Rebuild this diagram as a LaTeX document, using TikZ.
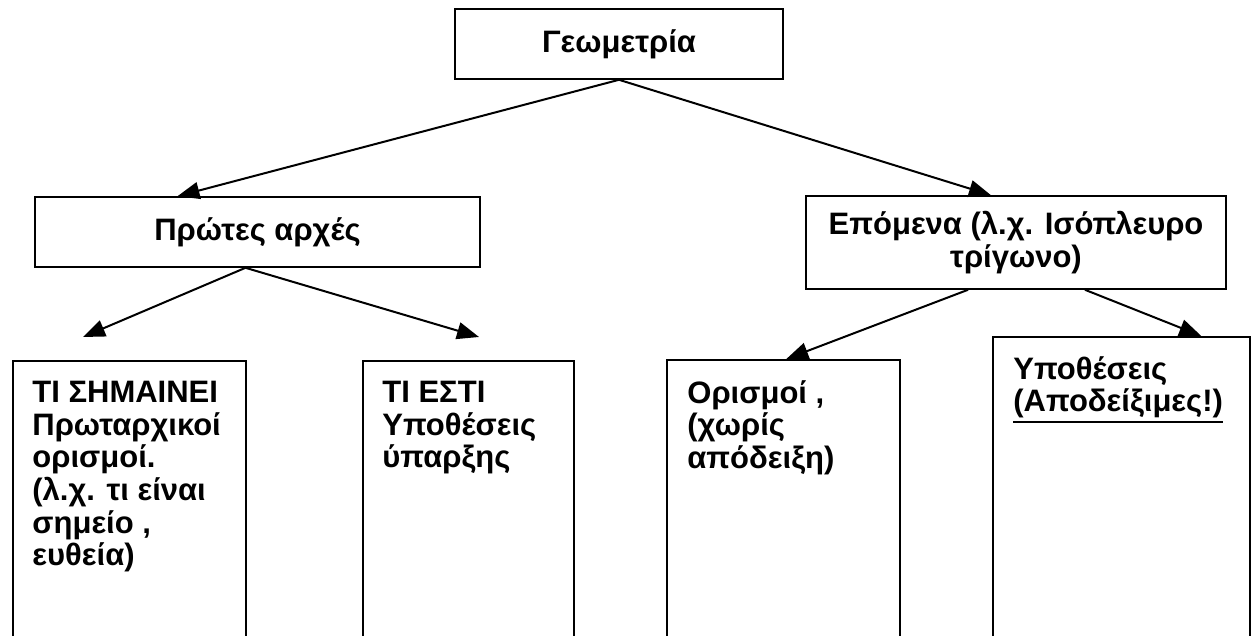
\documentclass[tikz,border=0pt]{standalone}
\usepackage{fontspec}
\setmainfont{Liberation Sans}
\usetikzlibrary{arrows.meta}
\newcommand\thickul[1]{\vtop{\hbox{#1}\kern1.3pt\hrule height 1.1pt}}

\begin{document}
\begin{tikzpicture}[x=0.5pt,y=-0.5pt]
\tikzstyle{box}=[draw,line width=0.8pt,align=center,font=\fontsize{15.5}{16.4}\selectfont\bfseries]
\tikzstyle{leaf}=[draw,line width=0.8pt,anchor=north west,minimum height=150pt]
\tikzstyle{leaftext}=[anchor=north west,inner sep=0pt,align=left,font=\fontsize{15.5}{16.3}\selectfont\bfseries]
\tikzstyle{arr}=[line width=1pt,-{Triangle[length=11pt,width=8.5pt]}]
\useasboundingbox (0,0) rectangle (1255,636);
\clip (0,0) rectangle (1255,636);
\path (619,44) node[box,minimum width=164pt,minimum height=35pt](g){Γεωμετρία}
  (257.5,232) node[box,minimum width=222.5pt,minimum height=35pt](p){Πρώτες αρχές}
  (1016,242.5) node[box,minimum width=210pt,minimum height=46.5pt](e){Επόμενα (λ.χ. Ισόπλευρο\\τρίγωνο)};
\path (12,360) node[leaf,minimum width=116.5pt](b1){}
  (362,360) node[leaf,minimum width=105.5pt](b2){}
  (666,359) node[leaf,minimum width=116.5pt](b3){}
  (992,336) node[leaf,minimum width=128.5pt](b4){};
\node[leaftext] (s1) at ([shift={(20,21)}]b1.north west) {ΤΙ ΣΗΜΑΙΝΕΙ\\Πρωταρχικοί\\ορισμοί.\\(λ.χ. τι είναι\\σημείο ,\\ευθεία)};
\node[leaftext] (s2) at ([shift={(20,21)}]b2.north west) {ΤΙ ΕΣΤΙ\\Υποθέσεις\\ύπαρξης};
\node[leaftext] (s3) at ([shift={(21,21)}]b3.north west) {Ορισμοί ,\\(χωρίς\\απόδειξη)};
\node[leaftext] (s4) at ([shift={(21,20)}]b4.north west) {Υποθέσεις\\\thickul{(Αποδείξιμες!)}};
\coordinate (t1) at (83,337);
\coordinate (t2) at (479,337);
\draw[arr] (g.south) -- ([shift={(-80,0)}]p.north);
\draw[arr] (g.south) -- ([shift={(-25,0)}]e.north);
\draw[arr] ([shift={(-12,0)}]p.south) -- (t1);
\draw[arr] ([shift={(-12,0)}]p.south) -- (t2);
\draw[arr] ([shift={(-48,0)}]e.south) -- ([shift={(3,0)}]b3.north);
\draw[arr] ([shift={(69,0)}]e.south) -- ([shift={(80,0)}]b4.north);
\end{tikzpicture}
\end{document}
